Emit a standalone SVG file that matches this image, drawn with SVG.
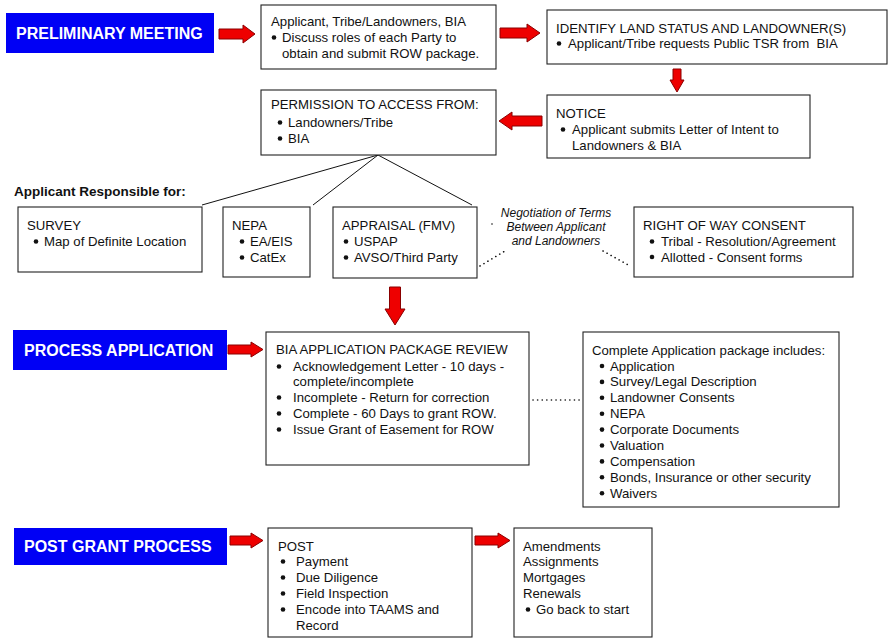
<svg xmlns="http://www.w3.org/2000/svg" width="893" height="643" viewBox="0 0 893 643">
<style>
text{font-family:"Liberation Sans",Arial,sans-serif;font-size:13.2px;fill:#111;white-space:pre}
.hdr{fill:#0000f5}
.hdrt{font-size:16px;font-weight:bold;fill:#fff}
.box{fill:#fff;stroke:#222;stroke-width:1.1}
.arr{fill:#ee0000;stroke:#8a0000;stroke-width:1}
.ln{stroke:#111;stroke-width:1;fill:none}
.dot{stroke:#111;stroke-width:1.6;fill:none;stroke-dasharray:0.1 4.5;stroke-linecap:round}
.b{fill:#111}
.ital{font-style:italic;font-size:12px}
.bold{font-weight:bold;font-size:13.5px}
</style>
<rect width="893" height="643" fill="#fff"/>
<g id="connectors">
<path class="arr" d="M219,29 H243 V25 L255,34 L243,43 V39 H219 Z"/>
<path class="arr" d="M500,28 H527 V24 L540,33 L527,42 V38 H500 Z"/>
<path class="arr" d="M673,69 H681 V80 H684 L677,92 L670,80 H673 Z"/>
<path class="arr" d="M542,116 H512 V112 L499,121 L512,130 V126 H542 Z"/>
<path class="ln" d="M378,155 L202,205 M378,155 L313,205 M378,155 L472,205"/>
<path class="arr" d="M389.5,287 H400.5 V309 H405 L395,325 L385,309 H389.5 Z"/>
<path class="dot" d="M480,266 L505,251"/>
<path class="dot" d="M603,251 L630,266"/>
<circle class="b" cx="492" cy="224" r="0.8"/>
<path class="arr" d="M228,345 H251 V342 L263,349.5 L251,357 V354 H228 Z"/>
<path class="dot" d="M533,400 L580,400"/>
<path class="arr" d="M230,536 H251 V533 L263,540.5 L251,548 V545 H230 Z"/>
<path class="arr" d="M475,536 H498 V533 L510,540.5 L498,548 V545 H475 Z"/>
</g>
<g id="preliminary">
<rect class="hdr" x="6" y="13" width="208" height="40"/>
<text class="hdrt" x="16" y="39">PRELIMINARY MEETING</text>
</g>
<g id="parties">
<rect class="box" x="261" y="5" width="235" height="64"/>
<text x="271" y="26">Applicant, Tribe/Landowners, BIA</text>
<circle class="b" cx="274" cy="37.5" r="2.3"/>
<text x="282" y="42">Discuss roles of each Party to</text>
<text x="282" y="58">obtain and submit ROW package.</text>
</g>
<g id="identify">
<rect class="box" x="547" y="10" width="340" height="54"/>
<text x="556" y="33">IDENTIFY LAND STATUS AND LANDOWNER(S)</text>
<circle class="b" cx="559" cy="43.5" r="2.3"/>
<text x="568" y="48">Applicant/Tribe requests Public TSR from  BIA</text>
</g>
<g id="notice">
<rect class="box" x="547" y="95" width="263" height="63"/>
<text x="556" y="118">NOTICE</text>
<circle class="b" cx="563" cy="129.5" r="2.3"/>
<text x="572" y="134">Applicant submits Letter of Intent to</text>
<text x="572" y="150">Landowners &amp; BIA</text>
</g>
<g id="permission">
<rect class="box" x="261" y="90" width="235" height="65"/>
<text x="271" y="109">PERMISSION TO ACCESS FROM:</text>
<circle class="b" cx="280" cy="122.5" r="2.3"/>
<text x="288" y="127">Landowners/Tribe</text>
<circle class="b" cx="280" cy="138.5" r="2.3"/>
<text x="288" y="143">BIA</text>
</g>
<text class="bold" x="14" y="196">Applicant Responsible for:</text>
<g id="survey">
<rect class="box" x="18" y="207" width="184" height="65"/>
<text x="27" y="230">SURVEY</text>
<circle class="b" cx="36" cy="241.5" r="2.3"/>
<text x="44" y="246">Map of Definite Location</text>
</g>
<g id="nepa">
<rect class="box" x="223" y="207" width="87" height="70"/>
<text x="232" y="230">NEPA</text>
<circle class="b" cx="242" cy="241.5" r="2.3"/>
<text x="250" y="246">EA/EIS</text>
<circle class="b" cx="242" cy="257.5" r="2.3"/>
<text x="250" y="262">CatEx</text>
</g>
<g id="appraisal">
<rect class="box" x="333" y="207" width="144" height="71"/>
<text x="342" y="230">APPRAISAL (FMV)</text>
<circle class="b" cx="346" cy="241.5" r="2.3"/>
<text x="354" y="246">USPAP</text>
<circle class="b" cx="346" cy="257.5" r="2.3"/>
<text x="354" y="262">AVSO/Third Party</text>
</g>
<g id="negotiation">
<text class="ital" x="556" y="217" text-anchor="middle">Negotiation of Terms</text>
<text class="ital" x="556" y="231" text-anchor="middle">Between Applicant</text>
<text class="ital" x="556" y="245" text-anchor="middle">and Landowners</text>
</g>
<g id="consent">
<rect class="box" x="634" y="207" width="219" height="70"/>
<text x="643" y="230">RIGHT OF WAY CONSENT</text>
<circle class="b" cx="652" cy="241.5" r="2.3"/>
<text x="661" y="246">Tribal - Resolution/Agreement</text>
<circle class="b" cx="652" cy="257" r="2.3"/>
<text x="661" y="261.5">Allotted - Consent forms</text>
</g>
<g id="process">
<rect class="hdr" x="13" y="330" width="214" height="40"/>
<text class="hdrt" x="24" y="356">PROCESS APPLICATION</text>
</g>
<g id="review">
<rect class="box" x="266" y="332" width="263" height="133"/>
<text x="276" y="354">BIA APPLICATION PACKAGE REVIEW</text>
<circle class="b" cx="279" cy="366.5" r="2.3"/>
<text x="293" y="371">Acknowledgement Letter - 10 days -</text>
<text x="293" y="386">complete/incomplete</text>
<circle class="b" cx="279" cy="397.5" r="2.3"/>
<text x="293" y="402">Incomplete - Return for correction</text>
<circle class="b" cx="279" cy="413.5" r="2.3"/>
<text x="293" y="418">Complete - 60 Days to grant ROW.</text>
<circle class="b" cx="279" cy="429.5" r="2.3"/>
<text x="293" y="434">Issue Grant of Easement for ROW</text>
</g>
<g id="package">
<rect class="box" x="583" y="332" width="256" height="175"/>
<text x="592" y="354.6">Complete Application package includes:</text>
<circle class="b" cx="602" cy="366" r="2.3"/>
<text x="610" y="370.5">Application</text>
<circle class="b" cx="602" cy="381.9" r="2.3"/>
<text x="610" y="386.4">Survey/Legal Description</text>
<circle class="b" cx="602" cy="397.8" r="2.3"/>
<text x="610" y="402.3">Landowner Consents</text>
<circle class="b" cx="602" cy="413.7" r="2.3"/>
<text x="610" y="418.2">NEPA</text>
<circle class="b" cx="602" cy="429.6" r="2.3"/>
<text x="610" y="434.1">Corporate Documents</text>
<circle class="b" cx="602" cy="445.5" r="2.3"/>
<text x="610" y="450">Valuation</text>
<circle class="b" cx="602" cy="461.4" r="2.3"/>
<text x="610" y="465.9">Compensation</text>
<circle class="b" cx="602" cy="477.3" r="2.3"/>
<text x="610" y="481.8">Bonds, Insurance or other security</text>
<circle class="b" cx="602" cy="493.2" r="2.3"/>
<text x="610" y="497.7">Waivers</text>
</g>
<g id="postgrant">
<rect class="hdr" x="14" y="528" width="213" height="37"/>
<text class="hdrt" x="24" y="552">POST GRANT PROCESS</text>
</g>
<g id="post">
<rect class="box" x="268" y="528" width="204" height="109"/>
<text x="278" y="550.5">POST</text>
<circle class="b" cx="283" cy="561.5" r="2.3"/>
<text x="296" y="566">Payment</text>
<circle class="b" cx="283" cy="577.5" r="2.3"/>
<text x="296" y="582">Due Diligence</text>
<circle class="b" cx="283" cy="593.5" r="2.3"/>
<text x="296" y="598">Field Inspection</text>
<circle class="b" cx="283" cy="609.5" r="2.3"/>
<text x="296" y="614">Encode into TAAMS and</text>
<text x="296" y="630">Record</text>
</g>
<g id="amendments">
<rect class="box" x="514" y="528" width="138" height="109"/>
<text x="523" y="550.5">Amendments</text>
<text x="523" y="566">Assignments</text>
<text x="523" y="582">Mortgages</text>
<text x="523" y="598">Renewals</text>
<circle class="b" cx="528" cy="609.5" r="2.3"/>
<text x="536" y="614">Go back to start</text>
</g>
</svg>
